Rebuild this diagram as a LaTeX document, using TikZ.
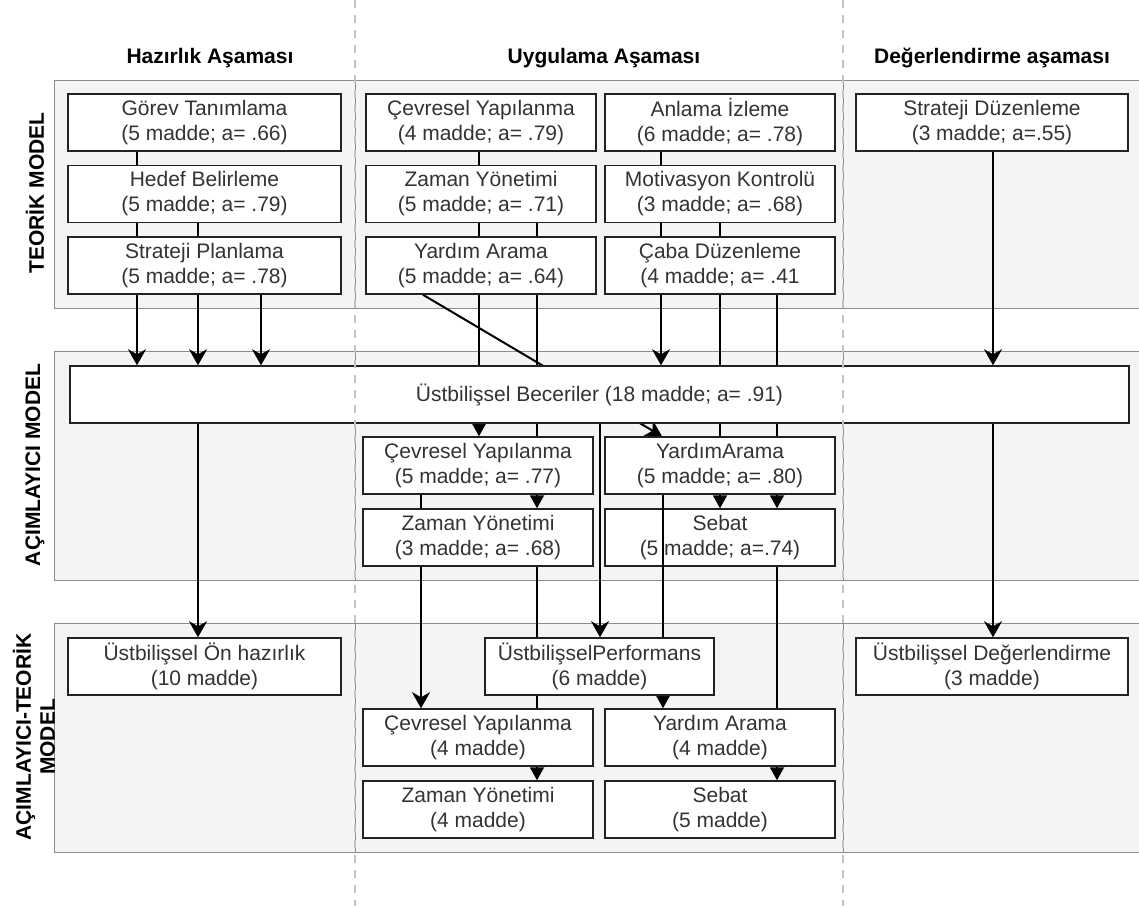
\documentclass[tikz,border=0pt]{standalone}
\usepackage{fontspec}
\setmainfont{Liberation Sans}
\usetikzlibrary{arrows.meta,calc}
\definecolor{panelfill}{HTML}{F4F4F4}
\definecolor{panelline}{HTML}{8C8C8C}
\definecolor{dashcol}{HTML}{C2C2C2}
\definecolor{txt}{HTML}{333333}
\definecolor{boxline}{HTML}{222222}
\pgfdeclarelayer{bg}\pgfdeclarelayer{edges}\pgfdeclarelayer{over}\pgfdeclarelayer{top}
\pgfsetlayers{bg,edges,main,over,top}
\begin{document}
\begin{tikzpicture}[x=1pt,y=-1pt,
  font=\fontsize{21}{25}\selectfont,
  factor/.style={draw=boxline, line width=1.5pt, fill=white, text=txt, align=center, inner sep=0pt, minimum height=57pt},
  wA/.style={minimum width=273pt}, wB/.style={minimum width=230pt},
  header/.style={font=\fontsize{21}{25}\selectfont\bfseries, text=black},
  rowlabel/.style={font=\fontsize{21}{24}\selectfont\bfseries, rotate=90, align=center, text=black},
  conn/.style={line width=2pt, draw=black},
  classic/.style={conn, -{Stealth[length=16pt,width=18pt,inset=5pt]}},
  block/.style={conn, -{Triangle[length=13pt,width=14pt]}},
  panel/.style={fill=panelfill, draw=panelline, line width=1pt},
  lane/.style={draw=dashcol, line width=2pt, dash pattern=on 8pt off 7pt}
]
\useasboundingbox (0,0) rectangle (1139,906);

% panels
\begin{pgfonlayer}{bg}
  \path[panel] (54,80) rectangle (1160,308);
  \path[panel] (54,351) rectangle (1160,580);
  \path[panel] (54,623) rectangle (1160,852);
  \foreach \yy/\yz in {80/308,351/580,623/852}{
    \draw[panelline, line width=1pt] (355,\yy) -- (355,\yz);
    \draw[panelline, line width=1pt] (843,\yy) -- (843,\yz);
  }
\end{pgfonlayer}

% headers and row labels
\node[header] (hH) at (210,58) {Hazırlık Aşaması};
\node[header] (hU) at (604,58) {Uygulama Aşaması};
\node[header] (hD) at (992,58) {Değerlendirme aşaması};
\node[rowlabel] (r1) at (35,193) {TEORİK MODEL};
\node[rowlabel] (r2) at (35,465) {AÇIMLAYICI MODEL};
\node[rowlabel] (r3) at (34,737) {AÇIMLAYICI-TEORİK\\MODEL};

% row 1
\node[factor,wA] (gt) at (204.5,122.5) {Görev Tanımlama\\(5 madde; a= .66)};
\node[factor,wA] (hb) at (204.5,194) {Hedef Belirleme\\(5 madde; a= .79)};
\node[factor,wA] (sp) at (204.5,265.5) {Strateji Planlama\\(5 madde; a= .78)};
\node[factor,wB] (cy1) at (481,122.5) {Çevresel Yapılanma\\(4 madde; a= .79)};
\node[factor,wB] (zy1) at (481,194) {Zaman Yönetimi\\(5 madde; a= .71)};
\node[factor,wB] (ya1) at (481,265.5) {Yardım Arama\\(5 madde; a= .64)};
\node[factor,wB] (ai) at (720,122.5) {Anlama İzleme\\(6 madde; a= .78)};
\node[factor,wB] (mk) at (720,194) {Motivasyon Kontrolü\\(3 madde; a= .68)};
\node[factor,wB] (cd) at (720,265.5) {Çaba Düzenleme\\(4 madde; a= .41};
\node[factor,minimum width=272pt] (sd) at (992,122.5) {Strateji Düzenleme\\(3 madde; a=.55)};

% row 2
\node[factor,minimum width=1059pt] (ub) at (599.5,394.5) {Üstbilişsel Beceriler (18 madde; a= .91)};
\node[factor,wB] (cy2) at (478,465.5) {Çevresel Yapılanma\\(5 madde; a= .77)};
\node[factor,wB] (zy2) at (478,537.5) {Zaman Yönetimi\\(3 madde; a= .68)};
\node[factor,wB] (ya2) at (720,465.5) {YardımArama\\(5 madde; a= .80)};
\node[factor,wB] (sb2) at (720,537.5) {Sebat\\(5 madde; a=.74)};

% row 3
\node[factor,wA] (oh) at (204.5,666.5) {Üstbilişsel Ön hazırlık\\(10 madde)};
\begin{pgfonlayer}{top}
\node[factor,minimum width=229pt] (up) at (599.5,666.5) {ÜstbilişselPerformans\\(6 madde)};
\end{pgfonlayer}
\node[factor,minimum width=272pt] (ud) at (992,666.5) {Üstbilişsel Değerlendirme\\(3 madde)};
\node[factor,wB] (cy3) at (478,737.5) {Çevresel Yapılanma\\(4 madde)};
\node[factor,wB] (ya3) at (720,737.5) {Yardım Arama\\(4 madde)};
\node[factor,wB] (zy3) at (478,809.5) {Zaman Yönetimi\\(4 madde)};
\node[factor,wB] (sb3) at (720,809.5) {Sebat\\(5 madde)};

% x positions of connectors
\foreach \xx in {137,198,261,421,423,479,537,600,661,662,663,720,777,993}{
  \coordinate (x\xx) at (\xx,0);
}

\begin{pgfonlayer}{edges}
  \draw[classic] (gt.south -| x137) -- (ub.north -| x137);
  \draw[classic] (hb.south -| x198) -- (ub.north -| x198);
  \draw[classic] (sp.south -| x261) -- (ub.north -| x261);
  \draw[block] (cy1.south -| x479) -- (cy2.north -| x479);
  \draw[block] (zy1.south -| x537) -- (zy2.north -| x537);
  \draw[classic] (ya1.south -| x423) -- (ya2.north -| x662);
  \draw[classic] (ai.south -| x661) -- (ub.north -| x661);
  \draw[block] (mk.south -| x720) -- (sb2.north -| x720);
  \draw[block] (cd.south -| x777) -- (sb2.north -| x777);
  \draw[classic] (sd.south -| x993) -- (ub.north -| x993);
  \draw[classic] (ub.south -| x198) -- (oh.north -| x198);
  \draw[classic] (ub.south -| x600) -- (up.north -| x600);
  \draw[classic] (ub.south -| x993) -- (ud.north -| x993);
  \draw[classic] (cy2.south -| x421) -- (cy3.north -| x421);
  \draw[block] (zy2.south -| x537) -- (zy3.north -| x537);
  \draw[block] (sb2.south -| x777) -- (sb3.north -| x777);
\end{pgfonlayer}

\begin{pgfonlayer}{over}
  \draw[block] (ya2.south -| x663) -- (ya3.north -| x663);
\end{pgfonlayer}

% dashed lane separators
\begin{pgfonlayer}{top}
  \coordinate (l1t) at (355,0); \coordinate (l1b) at (355,906);
  \coordinate (l2t) at (843,0); \coordinate (l2b) at (843,906);
  \draw[lane] (l1t) -- (l1b);
  \draw[lane] (l2t) -- (l2b);
\end{pgfonlayer}
\end{tikzpicture}
\end{document}
